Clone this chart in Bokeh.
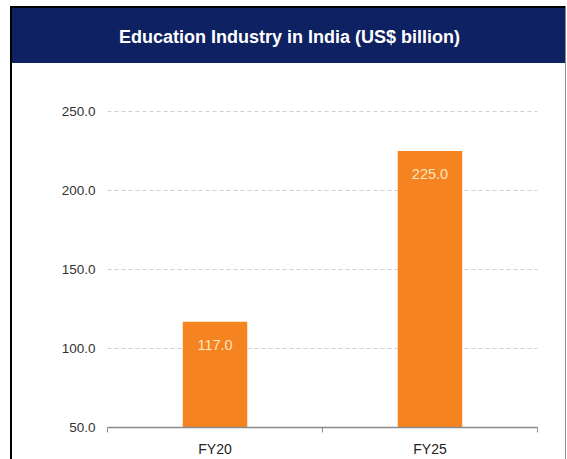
from bokeh.plotting import figure
from bokeh.layouts import column, row
from bokeh.models import Range1d, FixedTicker, NumeralTickFormatter, Label, ColumnDataSource
from bokeh.core.properties import value
from bokeh.embed import file_html
from bokeh.resources import INLINE

title_text = "Education Industry in India (US$ billion)"
categories = ["FY20", "FY25"]
values = [117.0, 225.0]
y_ticks = [50, 100, 150, 200, 250]

NAVY = "#0e2263"
ORANGE = "#f5831f"
FONT = "'Liberation Sans Narrow', 'Liberation Sans', Arial, sans-serif"

W = 553
MAIN_H = 396
HEADER_H = 55
ML, MR = 95, 28            # main frame borders (left/right)
FRAME_L = 12 + ML          # page x of frame left
FRAME_R = 12 + W - MR      # page x of frame right
TOTAL_H = 2 + HEADER_H + MAIN_H


def blank(fig, color):
    fig.axis.visible = False
    fig.grid.visible = False
    fig.background_fill_color = None
    fig.border_fill_color = None
    fig.outline_line_color = None
    fig.styles = {"background-color": color}
    return fig


def simple(w, h, **kw):
    return figure(width=w, height=h, output_backend="svg", toolbar_location=None,
                  min_border=0, **kw)


strip = blank(simple(2, TOTAL_H, x_range=(0, 1), y_range=(0, 1)), "black")
rstrip = blank(simple(1, TOTAL_H, x_range=(0, 1), y_range=(0, 1)), "#8c8c8c")

topline = blank(simple(W, 2, min_border_left=ML, min_border_right=MR,
                       x_range=(0, 1), y_range=(0, 1)), "black")

header = blank(simple(W, HEADER_H, min_border_left=ML, min_border_right=MR,
                      x_range=Range1d(FRAME_L, FRAME_R), y_range=Range1d(0, HEADER_H)),
               NAVY)
header.add_layout(Label(x=289, y=27, text=title_text,
                        text_align="center", text_baseline="middle",
                        text_color="white", text_font_size="18px",
                        text_font=FONT, text_font_style="bold"))

# main chart
xs = [i + 0.5 for i in range(len(categories))]
src = ColumnDataSource(dict(x=xs, top=values, cat=categories,
                            label=["%.1f" % v for v in values]))

p = figure(width=W, height=MAIN_H, output_backend="svg", toolbar_location=None,
           x_range=Range1d(0, len(categories)), y_range=Range1d(50, 262),
           min_border_left=ML, min_border_right=MR, min_border_top=29, min_border_bottom=30)
p.outline_line_color = None
p.background_fill_color = "white"
p.border_fill_color = "white"

p.vbar(x="x", top="top", bottom=0, width=0.3, source=src, fill_color=ORANGE, line_color=None)
p.text(x="x", y="top", text="label", source=src, y_offset=23,
       text_align="center", text_baseline="middle", text_color="#fde6c4",
       text_font=value(FONT), text_font_size="14.5px")

p.xgrid.visible = False
p.ygrid.ticker = FixedTicker(ticks=y_ticks)
p.ygrid.grid_line_color = "#cfcfcf"
p.ygrid.grid_line_dash = "4 3"
p.ygrid.grid_line_width = 1

p.yaxis.ticker = FixedTicker(ticks=y_ticks)
p.yaxis.formatter = NumeralTickFormatter(format="0.0")
p.yaxis.axis_line_color = None
p.yaxis.major_tick_line_color = None
p.yaxis.major_tick_out = 0
p.yaxis.major_tick_in = 0
p.yaxis.minor_tick_line_color = None
p.yaxis.minor_tick_out = 0
p.yaxis.major_label_standoff = 12
p.yaxis.major_label_text_font = FONT
p.yaxis.major_label_text_font_size = "13.5px"
p.yaxis.major_label_text_color = "#333333"

p.xaxis.ticker = FixedTicker(ticks=xs, minor_ticks=list(range(len(categories) + 1)))
p.xaxis.major_label_overrides = {x: c for x, c in zip(xs, categories)}
p.xaxis.axis_line_color = "#8a8a8a"
p.xaxis.axis_line_width = 1.5
p.xaxis.major_tick_line_color = None
p.xaxis.major_tick_out = 0
p.xaxis.major_tick_in = 0
p.xaxis.minor_tick_line_color = "#8a8a8a"
p.xaxis.minor_tick_out = 5
p.xaxis.minor_tick_in = 0
p.xaxis.major_label_standoff = 8
p.xaxis.major_label_text_font = FONT
p.xaxis.major_label_text_font_size = "14px"
p.xaxis.major_label_text_color = "#222222"

layout = row(strip, column(topline, header, p, spacing=0), rstrip, spacing=0)
layout.margin = (6, 0, 0, 10)
open("out.html", "w").write(file_html(layout, INLINE))
